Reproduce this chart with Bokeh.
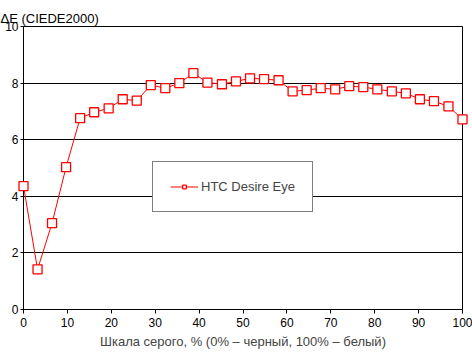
from bokeh.plotting import figure
from bokeh.models import Range1d, FixedTicker, Legend, LegendItem
from bokeh.embed import file_html
from bokeh.resources import INLINE

gray_pct = [0, 3.2, 6.5, 9.7, 12.9, 16.1, 19.4, 22.6, 25.8, 29.0, 32.3, 35.5,
            38.7, 41.9, 45.2, 48.4, 51.6, 54.8, 58.1, 61.3, 64.5, 67.7, 71.0,
            74.2, 77.4, 80.6, 83.9, 87.1, 90.3, 93.5, 96.8, 100]
delta_e = [4.36, 1.42, 3.05, 5.03, 6.76, 6.97, 7.11, 7.43, 7.38, 7.93, 7.82,
           8.00, 8.35, 8.02, 7.96, 8.06, 8.17, 8.14, 8.10, 7.71, 7.75, 7.82,
           7.78, 7.89, 7.86, 7.78, 7.71, 7.64, 7.43, 7.36, 7.18, 6.72]
series_name = "HTC Desire Eye"
x_ticks = [0, 10, 20, 30, 40, 50, 60, 70, 80, 90, 100]
y_ticks = [0, 2, 4, 6, 8, 10]
x_label = "Шкала серого, % (0% – черный, 100% – белый)"
y_label = "ΔE (CIEDE2000)"

FONT = "Liberation Sans"

p = figure(width=472, height=352, output_backend="svg", toolbar_location=None,
           x_range=Range1d(0, 100), y_range=Range1d(0, 10),
           min_border_left=23, min_border_right=10, min_border_top=26,
           min_border_bottom=43)
p.background_fill_color = "white"
p.border_fill_color = "white"
p.outline_line_color = "black"
p.outline_line_width = 1

p.title.text = y_label
p.title.align = "left"
p.title.offset = -23
p.title.text_font = FONT
p.title.text_font_size = "13px"
p.title.text_font_style = "normal"
p.title.text_color = "black"
p.title.standoff = 2

p.xgrid.visible = False
p.ygrid.grid_line_color = "black"
p.ygrid.grid_line_width = 1
p.ygrid.ticker = FixedTicker(ticks=y_ticks)

for ax in (p.xaxis[0], p.yaxis[0]):
    ax.axis_line_color = "black"
    ax.major_tick_line_color = "black"
    ax.minor_tick_line_color = None
    ax.major_tick_in = 0
    ax.major_tick_out = 4
    ax.major_label_text_font = FONT
    ax.major_label_text_font_size = "12px"
    ax.major_label_text_color = "black"

p.xaxis[0].ticker = FixedTicker(ticks=x_ticks)
p.yaxis[0].ticker = FixedTicker(ticks=y_ticks)
p.yaxis[0].major_tick_out = 3
p.yaxis[0].major_label_standoff = 2
p.xaxis[0].major_label_standoff = 4
p.xaxis[0].axis_label = x_label
p.xaxis[0].axis_label_text_font = FONT
p.xaxis[0].axis_label_text_font_size = "13px"
p.xaxis[0].axis_label_text_font_style = "normal"
p.xaxis[0].axis_label_standoff = 4

ln = p.line(gray_pct, delta_e, line_color="red", line_width=1, level="overlay")
sc = p.scatter(gray_pct, delta_e, marker="square", size=9, line_color="red",
               line_width=1.3, fill_color="white", level="overlay")

legend = Legend(items=[LegendItem(label=series_name, renderers=[ln, sc])],
                location=(129, 97), orientation="vertical")
legend.border_line_color = "black"
legend.border_line_width = 1
legend.background_fill_color = "white"
legend.background_fill_alpha = 1
legend.padding = 17
legend.margin = 0
legend.glyph_width = 28
legend.glyph_height = 9
legend.label_standoff = 3
legend.label_text_font = FONT
legend.label_text_font_size = "13px"
legend.label_height = 9
p.add_layout(legend, "center")

open("out.html", "w").write(file_html(p, INLINE))
